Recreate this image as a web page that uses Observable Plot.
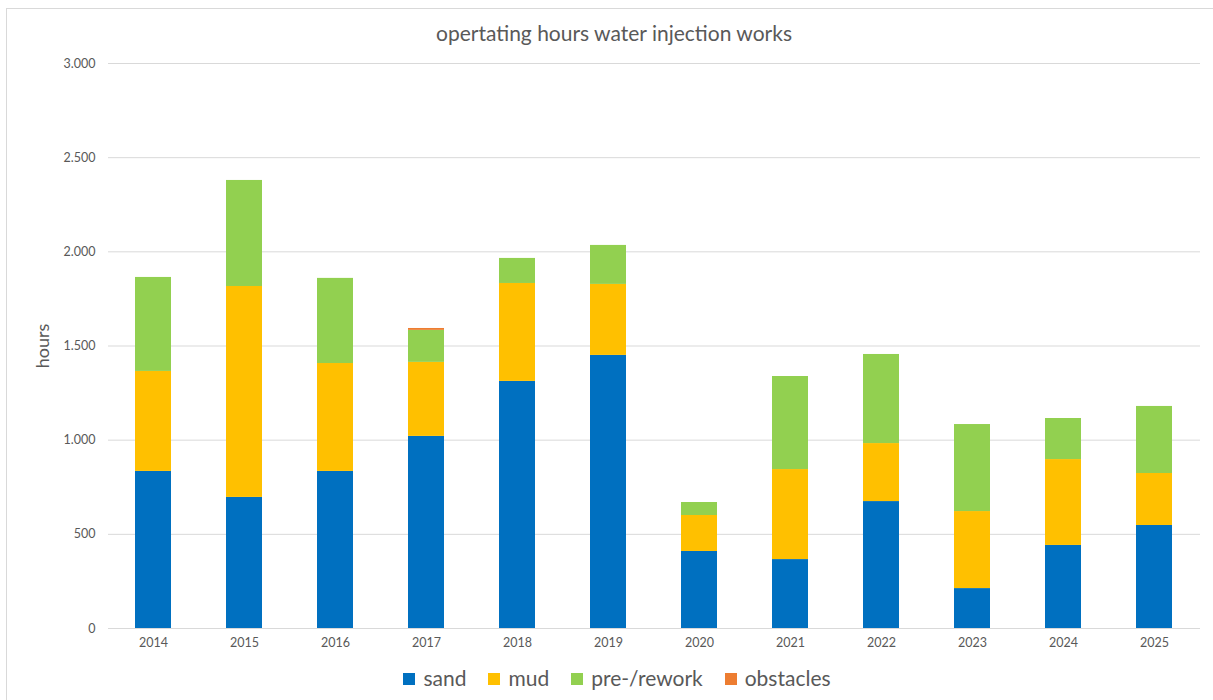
<!DOCTYPE html>
<html><head><meta charset="utf-8">
<script src="https://cdn.jsdelivr.net/npm/d3@7"></script>
<script src="https://cdn.jsdelivr.net/npm/@observablehq/plot@0.6"></script>
<style>
body{margin:0;background:#fff;font-family:Lato,"Open Sans",sans-serif;}
#wrap{position:relative;width:1213px;height:700px;overflow:hidden;}
#frame{position:absolute;left:6px;top:8px;width:1300px;height:800px;border-left:1px solid #d9d9d9;border-top:1px solid #d9d9d9;}
#title{position:absolute;left:0;top:20px;width:1228px;text-align:center;font-size:21px;color:#595959;}
#chart{position:absolute;left:0;top:0;}
#legend{position:absolute;left:0;top:665px;width:1234px;display:flex;justify-content:center;gap:22px;font-size:21px;color:#595959;}
#legend span.sw{display:inline-block;width:12px;height:12px;margin-right:8px;vertical-align:middle;position:relative;top:-2px;}
</style></head>
<body><div id="wrap"><div id="frame"></div><div id="title">opertating hours water injection works</div><div id="chart"></div><div id="legend"></div></div>
<script>
const years = ["2014","2015","2016","2017","2018","2019","2020","2021","2022","2023","2024","2025"];
const sand = [834, 696, 834, 1020, 1312, 1450, 409, 366, 674, 212, 441, 547];
const mud = [531, 1120, 573, 393, 520, 377, 191, 478, 308, 409, 456, 276];
const prework = [499, 563, 452, 170, 133, 207, 69, 494, 473, 462, 218, 356];
const obstacles = [0, 0, 0, 10, 0, 0, 0, 0, 0, 0, 0, 0];
const seriesNames = ["sand", "mud", "pre-/rework", "obstacles"];
const seriesColors = ["#0070C0", "#FFC000", "#92D050", "#ED7D31"];
const yTicks = [0, 500, 1000, 1500, 2000, 2500, 3000];

const seriesValues = [sand, mud, prework, obstacles];
const data = [];
seriesNames.forEach((s, i) => years.forEach((y, j) => data.push({year: y, series: s, value: seriesValues[i][j]})));

const fmt = d3.formatLocale({decimal: ",", thousands: ".", grouping: [3], currency: ["", ""]}).format(",");

const chart = Plot.plot({
  width: 1213, height: 660,
  marginTop: 63, marginBottom: 32, marginLeft: 108, marginRight: 13,
  style: {fontFamily: "Lato, 'Open Sans', sans-serif", fontSize: "12.5px", color: "#595959", background: "transparent"},
  x: {domain: years, paddingInner: 0.6, paddingOuter: 0.3, label: null, tickSize: 0, tickPadding: 10},
  y: {domain: [0, 3000], ticks: yTicks, tickFormat: fmt, label: null, tickSize: 0, tickPadding: 13},
  color: {domain: seriesNames, range: seriesColors},
  marks: [
    Plot.ruleY(yTicks, {stroke: "#d9d9d9", strokeWidth: 1}),
    Plot.barY(data, {x: "year", y: "value", fill: "series", order: seriesNames}),
    Plot.axisY({ticks: yTicks, tickFormat: fmt, tickSize: 0, tickPadding: 13, label: null, fontSize: 12.5}),
    Plot.axisX({tickSize: 0, tickPadding: 10, label: null, fontSize: 12.5})
  ]
});
document.getElementById("chart").appendChild(chart);

const svg = d3.select(chart);
svg.append("text").attr("transform", "translate(49,346) rotate(-90)").attr("text-anchor", "middle")
  .attr("font-size", "18px").attr("fill", "#595959").text("hours");

const leg = document.getElementById("legend");
seriesNames.forEach((s, i) => {
  const d = document.createElement("div");
  d.innerHTML = `<span class="sw" style="background:${seriesColors[i]}"></span>${s}`;
  leg.appendChild(d);
});
</script></body></html>
